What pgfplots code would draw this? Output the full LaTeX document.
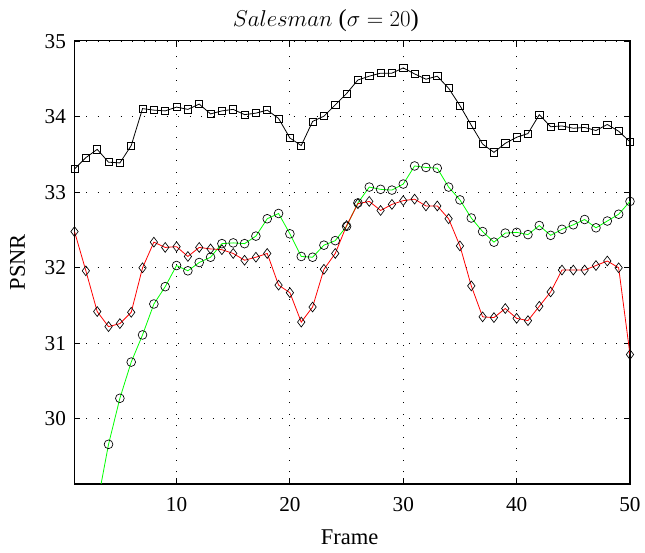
\documentclass[border=0pt]{standalone}
\usepackage{fontspec}
\setmainfont{Liberation Serif}
\usepackage{pgfplots}
\pgfplotsset{compat=1.18}
\begin{document}
\begin{tikzpicture}
\begin{axis}[
  name=ax,
  scale only axis,
  width=419.25pt, height=334.5pt,
  xmin=1, xmax=50, ymin=29.135, ymax=35.01,
  xtick={10,20,30,40,50},
  ytick={30,31,32,33,34,35},
  tick align=inside,
  major tick length=4.5pt,
  axis line style={line width=0.9pt},
  grid=major,
  major grid style={black, line width=0.7pt, dash pattern=on 0.7pt off 8pt},
  tick style={black, line width=0.7pt},
  /pgf/number format/assume math mode=true,
  ticklabel style={font=\fontsize{16}{19}\selectfont},
  xticklabel style={yshift=-7pt},
  yticklabel style={xshift=-3pt},
  label style={font=\fontsize{17}{20}\selectfont},
  xlabel={Frame},
  ylabel={PSNR},
  xlabel style={at={(axis description cs:0.5,0)}, anchor=north, yshift=-31pt, xshift=-2pt},
  ylabel style={yshift=8pt},
  title={\fontsize{18.5}{22}\selectfont $Salesman$ ($\sigma = 20$)},
  title style={yshift=-3pt, xshift=-20pt},
  clip=true,
]
\addplot[black, line width=0.6pt, mark=square, mark size=2.7pt, mark options={solid, line width=0.5pt}] coordinates {
(1,33.31) (2,33.46) (3,33.57) (4,33.40) (5,33.39) (6,33.62) (7,34.11) (8,34.09) (9,34.08) (10,34.13)
(11,34.10) (12,34.17) (13,34.04) (14,34.08) (15,34.10) (16,34.03) (17,34.05) (18,34.09) (19,33.98) (20,33.72)
(21,33.62) (22,33.94) (23,34.01) (24,34.16) (25,34.31) (26,34.49) (27,34.54) (28,34.58) (29,34.58) (30,34.65)
(31,34.57) (32,34.50) (33,34.54) (34,34.38) (35,34.15) (36,33.89) (37,33.64) (38,33.53) (39,33.65) (40,33.73)
(41,33.78) (42,34.03) (43,33.87) (44,33.88) (45,33.85) (46,33.86) (47,33.82) (48,33.90) (49,33.81) (50,33.67)
};
\addplot[green, line width=0.6pt, mark=o, mark size=3.3pt, mark options={black, solid, line width=0.5pt}] coordinates {
(1,27.5) (2,28.2) (3,28.86) (4,29.66) (5,30.27) (6,30.75) (7,31.11) (8,31.52) (9,31.75) (10,32.03)
(11,31.96) (12,32.07) (13,32.14) (14,32.32) (15,32.33) (16,32.32) (17,32.42) (18,32.65) (19,32.72) (20,32.45)
(21,32.15) (22,32.14) (23,32.30) (24,32.36) (25,32.55) (26,32.86) (27,33.07) (28,33.04) (29,33.03) (30,33.11)
(31,33.35) (32,33.33) (33,33.32) (34,33.07) (35,32.90) (36,32.66) (37,32.48) (38,32.34) (39,32.46) (40,32.47)
(41,32.44) (42,32.56) (43,32.43) (44,32.51) (45,32.57) (46,32.64) (47,32.53) (48,32.62) (49,32.71) (50,32.88)
};
\addplot[red, line width=0.6pt, mark=diamond, mark size=3.7pt, mark options={black, solid, line width=0.5pt}] coordinates {
(1,32.48) (2,31.96) (3,31.42) (4,31.22) (5,31.26) (6,31.41) (7,32.00) (8,32.34) (9,32.27) (10,32.28)
(11,32.15) (12,32.27) (13,32.25) (14,32.24) (15,32.19) (16,32.10) (17,32.14) (18,32.19) (19,31.77) (20,31.67)
(21,31.28) (22,31.48) (23,31.98) (24,32.19) (25,32.56) (26,32.85) (27,32.88) (28,32.76) (29,32.84) (30,32.89)
(31,32.91) (32,32.82) (33,32.82) (34,32.65) (35,32.29) (36,31.76) (37,31.35) (38,31.34) (39,31.46) (40,31.33)
(41,31.30) (42,31.49) (43,31.68) (44,31.97) (45,31.97) (46,31.97) (47,32.03) (48,32.09) (49,32.00) (50,30.85)
};
\end{axis}
\path (ax.south west) ++(-56.25pt,-51.75pt) coordinate (bl);
\path (ax.north east) ++(8.25pt,30.75pt) coordinate (tr);
\path (bl) rectangle (tr);
\end{tikzpicture}
\end{document}
